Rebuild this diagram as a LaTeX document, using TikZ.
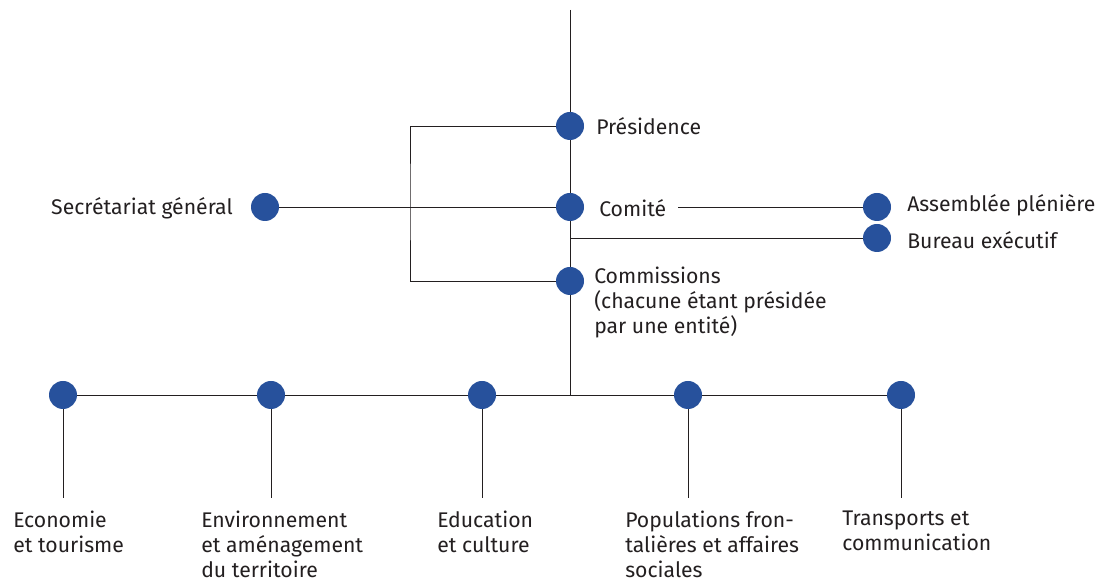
\documentclass[tikz,border=0pt]{standalone}
\usepackage{fontspec}
\setmainfont{Fira Sans}
\definecolor{dotblue}{HTML}{27519C}
\definecolor{inkgray}{HTML}{231F20}
\begin{document}
\begin{tikzpicture}[x=0.75pt,y=-0.75pt,
	dot/.style={circle,fill=dotblue,draw=none,minimum size=21pt,inner sep=0pt},
	lbl/.style={inner sep=0pt,text=inkgray,font=\fontsize{15.9}{18.75}\selectfont,align=left},
	ln/.style={draw=inkgray,line width=0.6pt}]
\useasboundingbox (0,0) rectangle (1101,584);

% dots of the central column
\node[dot] (pres) at (570,126) {};
\node[dot] (comt) at (570,207) {};
\node[dot] (comm) at (570,281) {};
\node[dot] (sec) at (265,207) {};
\node[dot] (ap) at (877,207) {};
\node[dot] (be) at (877,238) {};

\coordinate (top) at (570,10);
\coordinate (bj) at (570,238);
\coordinate (cj) at (678,207);
\coordinate (brk) at (410,200);
\coordinate (hub) at (570,395);

% labels
\path (596,126) node[lbl,anchor=west] (tpres) {Présidence};
\path (599,208) node[lbl,anchor=west] (tcomt) {Comité};
\path (233,208) node[lbl,anchor=east] (tsec) {Secrétariat général};
\path (907,205) node[lbl,anchor=west] (tap) {Assemblée plénière};
\path (907,240) node[lbl,anchor=west] (tbe) {Bureau exécutif};
\path (594,267) node[lbl,anchor=north west] (tcomm) {Commissions\\(chacune étant présidée\\par une entité)};

\draw[ln] (top) -- (pres);
\draw[ln] (pres) -- (comt);
\draw[ln] (comt) -- (comm);
\draw[ln] (comm) -- (hub);
\draw[ln] (sec) -- (comt);
\draw[ln] (cj) -- (ap);
\draw[ln] (bj) -- (be);
\draw[ln] (pres.west) -| (brk) |- (comm.west);

% the five commissions
\foreach \x/\n in {63/c1, 271/c2, 482/c3, 688/c4, 901/c5}
{
	\node[dot] (\n) at (\x,395) {};
	\coordinate (\n e) at (\x,498);
	\draw[ln] (\n) -- (\n e);
}
\draw[ln] (c1) -- (c2);
\draw[ln] (c2) -- (c3);
\draw[ln] (c3) -- (c4);
\draw[ln] (c4) -- (c5);

\path (13,511) node[lbl,anchor=north west] (t1) {Economie\\et tourisme};
\path (201,511) node[lbl,anchor=north west] (t2) {Environnement\\et aménagement\\du territoire};
\path (437,511) node[lbl,anchor=north west] (t3) {Education\\et culture};
\path (625,511) node[lbl,anchor=north west] (t4) {Populations fron-\\talières et affaires\\sociales};
\path (842,511) node[lbl,anchor=north west] (t5) {Transports et\\communication};

\end{tikzpicture}
\end{document}
